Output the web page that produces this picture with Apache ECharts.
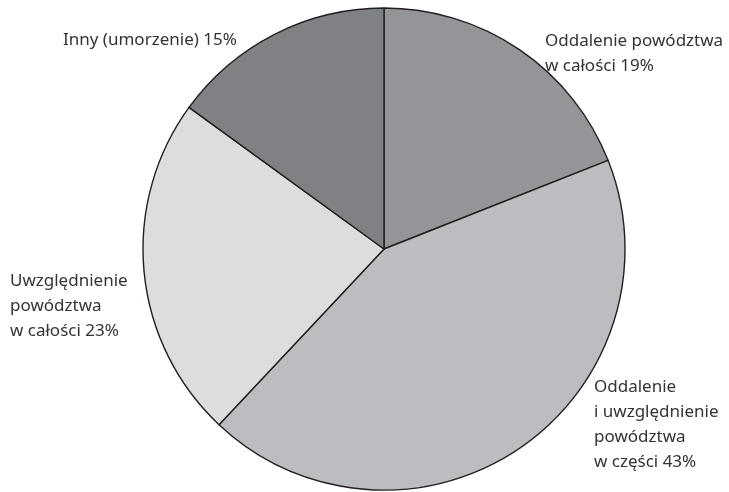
<!DOCTYPE html>
<html>
<head>
<meta charset="utf-8">
<script src="https://cdn.jsdelivr.net/npm/echarts@6/dist/echarts.min.js"></script>
<style>
  html, body { margin: 0; padding: 0; background: #ffffff; }
  #chart { width: 729px; height: 492px; }
</style>
</head>
<body>
<div id="chart"></div>
<script>
// Rozstrzygnięcia w sprawach (udział procentowy)
const categories = [
  'Oddalenie powództwa\nw całości',
  'Oddalenie\ni uwzględnienie\npowództwa\nw części',
  'Uwzględnienie\npowództwa\nw całości',
  'Inny (umorzenie)'
];
const shares = [19, 43, 23, 15];
const sliceColors = ['#949598', '#bcbdc0', '#dcdddf', '#808184'];

// Label anchor points (left edge, vertical middle) per slice
const labelAnchors = [
  { x: 545, y: 54 },
  { x: 594, y: 425 },
  { x: 10, y: 306 },
  { x: 63, y: 40 }
];

const chart = echarts.init(document.getElementById('chart'), null, { renderer: 'canvas' });

chart.setOption({
  backgroundColor: '#ffffff',
  animation: false,
  series: [{
    type: 'pie',
    center: [384, 249],
    radius: 241,
    startAngle: 90,
    clockwise: true,
    data: categories.map((name, i) => ({
      name: name,
      value: shares[i],
      itemStyle: { color: sliceColors[i] }
    })),
    itemStyle: { borderColor: '#231f20', borderWidth: 1.4 },
    emphasis: { disabled: true },
    label: {
      show: true,
      position: 'outside',
      alignTo: 'none',
      overflow: 'none',
      formatter: p => p.name + ' ' + p.value + '%',
      color: '#333333',
      fontFamily: 'Noto Sans',
      fontSize: 17,
      lineHeight: 25
    },
    labelLine: { show: false },
    labelLayout: params => ({
      x: labelAnchors[params.dataIndex].x,
      y: labelAnchors[params.dataIndex].y,
      align: 'left',
      verticalAlign: 'middle',
      hideOverlap: false
    })
  }]
});
</script>
</body>
</html>
